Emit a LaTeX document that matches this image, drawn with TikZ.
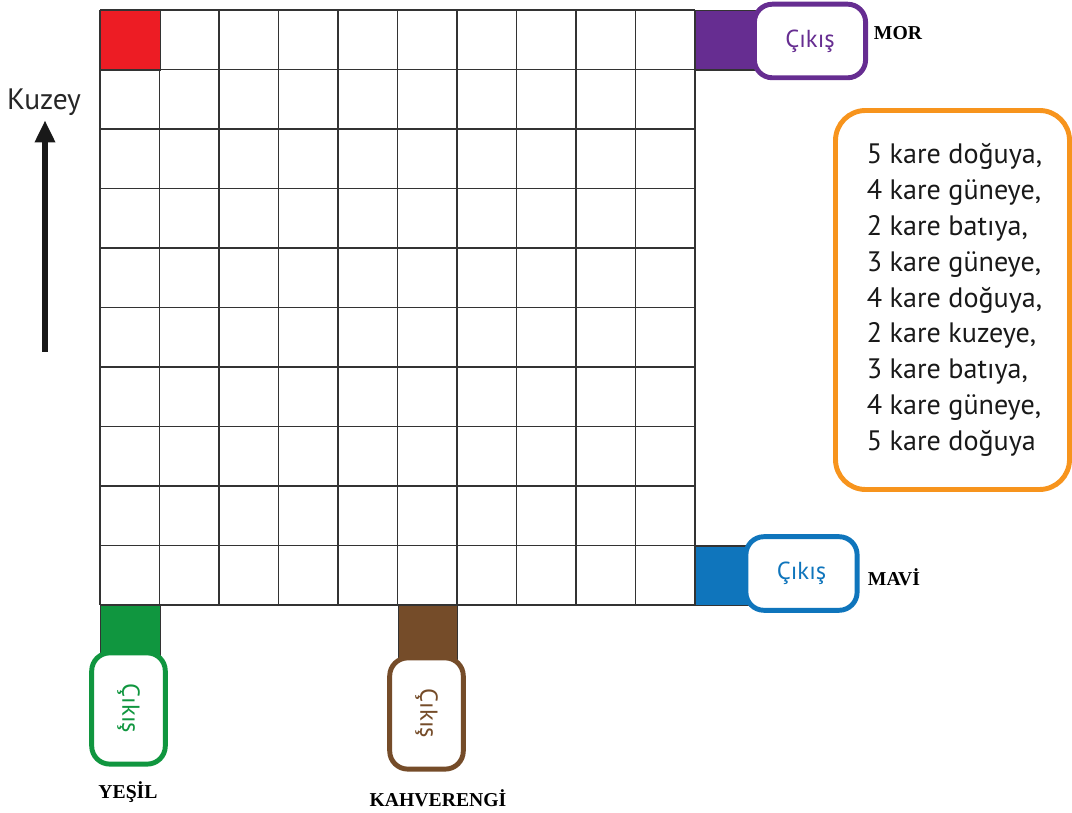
\documentclass[tikz,border=0pt]{standalone}
\usepackage{fontspec}
\setmainfont{PT Sans}
\newfontfamily\labelfont{Liberation Serif}
\usetikzlibrary{arrows.meta,positioning}
\definecolor{redcell}{HTML}{ED1C24}
\definecolor{purplecell}{HTML}{662D91}
\definecolor{bluecell}{HTML}{0F75BC}
\definecolor{greencell}{HTML}{10963F}
\definecolor{browncell}{HTML}{754C29}
\definecolor{orangebox}{HTML}{F7941D}
\tikzstyle{cell}=[draw=black!80,line width=0.9pt,inner sep=0pt,
  minimum size=1.4875cm,anchor=north west]
\tikzstyle{exit}=[draw,line width=3.5pt,rounded corners=0.45cm,fill=white,
  minimum width=2.78cm,minimum height=1.84cm,inner sep=0pt,
  font=\fontsize{17.5}{20}\selectfont]
\tikzstyle{colorlbl}=[font=\labelfont\bfseries\fontsize{14}{16}\selectfont]

\begin{document}
\begin{tikzpicture}[>={Triangle[length=5.5mm,width=4.8mm]}]
  \useasboundingbox (0,0) rectangle (26.8,20.3);

  % the 10 x 10 grid
  \begin{scope}[shift={(2.5,5.175)}, black!80, line width=0.9pt]
    \foreach \i in {0,...,10} {
      \draw (\i*1.4875,0) -- (\i*1.4875,14.875);
      \draw (0,\i*1.4875) -- (14.875,\i*1.4875);
    }
  \end{scope}

  \node[cell, fill=redcell] (red) at (2.5,20.05) {};
  \node[cell, fill=purplecell] (purple) at (17.375,20.05) {};
  \node[cell, fill=bluecell] (blue) at (17.375,6.6625) {};
  \node[cell, fill=greencell] (green) at (2.5,5.175) {};
  \node[cell, fill=browncell] (brown) at (9.9375,5.175) {};

  \node[exit, draw=purplecell, text=purplecell] (purpleexit) at (20.25,19.275) {Çıkış};
  \node[exit, draw=bluecell, text=bluecell] (blueexit) at (20.0375,5.9625) {Çıkış};
  \node[exit, draw=greencell, text=greencell, rotate=-90] (greenexit) at (3.2125,2.5875) {Çıkış};
  \node[exit, draw=browncell, text=browncell, rotate=-90] (brownexit) at (10.6625,2.4625) {Çıkış};

  \node[colorlbl] (mor) at (22.45,19.475) {MOR};
  \node[colorlbl] (mavi) at (22.35,5.875) {MAVİ};
  \node[colorlbl] (yesil) at (3.2,0.5) {YEŞİL};
  \node[colorlbl] (kahverengi) at (10.95,0.35) {KAHVERENGİ};

  \node[font=\fontsize{21}{24}\selectfont, text=black!85] (kuzey) at (1.1,17.75) {Kuzey};
  \coordinate (tail) at (1.125,11.5);
  \draw[->, line width=4pt, black!90] (tail) -- (tail |- kuzey.south);

  \node[draw=orangebox, line width=3.5pt, rounded corners=0.75cm,
    minimum width=5.85cm, minimum height=9.475cm] (steps) at (23.8125,12.8) {};
  \node[font=\fontsize{20}{25.5}\selectfont, text=black!90, align=left,
    right=0.72cm of steps.west, anchor=west] (stepstext)
    {5 kare doğuya,\\4 kare güneye,\\2 kare batıya,\\3 kare güneye,\\4 kare doğuya,\\
     2 kare kuzeye,\\3 kare batıya,\\4 kare güneye,\\5 kare doğuya};
\end{tikzpicture}
\end{document}
